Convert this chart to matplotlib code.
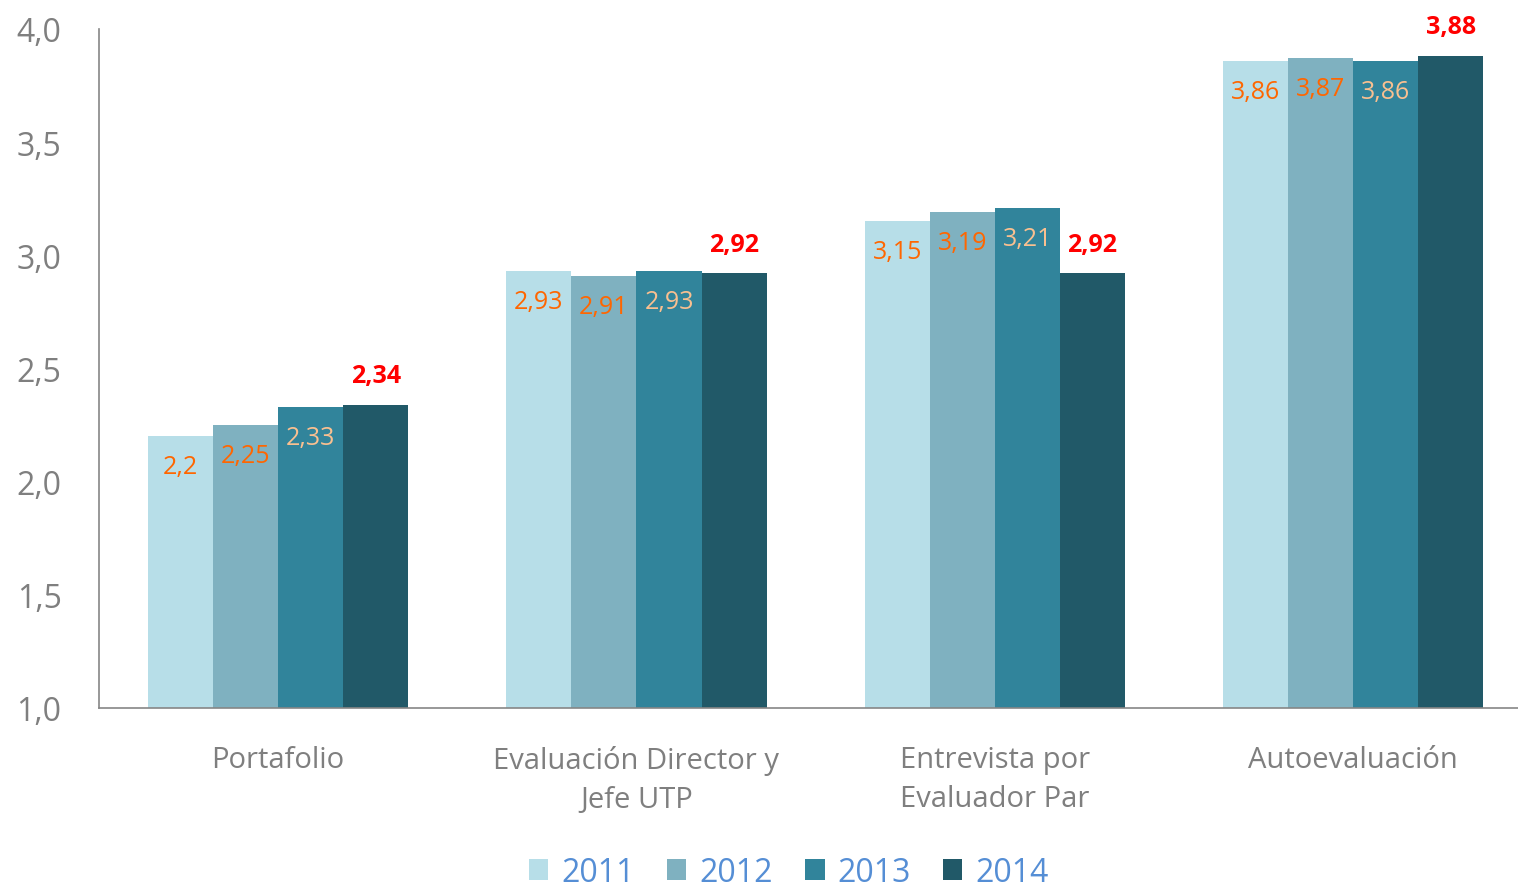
import matplotlib.pyplot as plt
import numpy as np

categories = ["Portafolio", "Evaluación Director y\nJefe UTP", "Entrevista por\nEvaluador Par", "Autoevaluación"]
years = ["2011", "2012", "2013", "2014"]
v2011 = [2.2, 2.93, 3.15, 3.86]
v2012 = [2.25, 2.91, 3.19, 3.87]
v2013 = [2.33, 2.93, 3.21, 3.86]
v2014 = [2.34, 2.92, 2.92, 3.88]

colors = ["#B7DEE8", "#7FB1C0", "#31849B", "#215968"]
label_colors = ["#FF6600", "#FF6600", "#FAC090", "#FF0000"]

plt.rcParams["font.family"] = ["Open Sans", "DejaVu Sans"]

fig = plt.figure(figsize=(15.18, 8.87), dpi=100)
ax = fig.add_axes([0.0652, 0.2007, 0.9348, 0.7655])

x = np.arange(len(categories))
w = 0.1816
series = [v2011, v2012, v2013, v2014]
for i, vals in enumerate(series):
    pos = x + (i - 1.5) * w
    ax.bar(pos, np.array(vals) - 1.0, w, bottom=1.0, color=colors[i], label=years[i])
    for px, v in zip(pos, vals):
        txt = str(v).replace(".", ",")
        if i == 3:
            ax.annotate(txt, (px, v), xytext=(0, 21), textcoords="offset points",
                        ha="center", va="center", color=label_colors[i],
                        fontsize=18, fontweight="bold")
        else:
            ax.annotate(txt, (px, v), xytext=(0, -22), textcoords="offset points",
                        ha="center", va="center", color=label_colors[i], fontsize=18)

ax.set_ylim(1.0, 4.0)
ax.set_xlim(-0.5, 3.46)
ax.set_yticks(np.arange(1.0, 4.01, 0.5))
ax.set_yticklabels([f"{t:.1f}".replace(".", ",") for t in np.arange(1.0, 4.01, 0.5)])
ax.set_xticks(x)
ax.set_xticklabels(categories, linespacing=1.45)
ax.tick_params(axis="both", length=0, labelsize=23, labelcolor="#7F7F7F")
ax.tick_params(axis="x", labelsize=21, pad=27)
ax.tick_params(axis="y", pad=27)
for s in ["top", "right"]:
    ax.spines[s].set_visible(False)
for s in ["left", "bottom"]:
    ax.spines[s].set_color("#868686")
    ax.spines[s].set_linewidth(1.2)

leg = ax.legend(loc="center", bbox_to_anchor=(0.486, -0.242), ncol=4, frameon=False,
                fontsize=23, handlelength=0.62, handleheight=0.62, handletextpad=0.4,
                columnspacing=1.0)
for t in leg.get_texts():
    t.set_color("#558ED5")

fig.savefig("out.png", dpi=100)
